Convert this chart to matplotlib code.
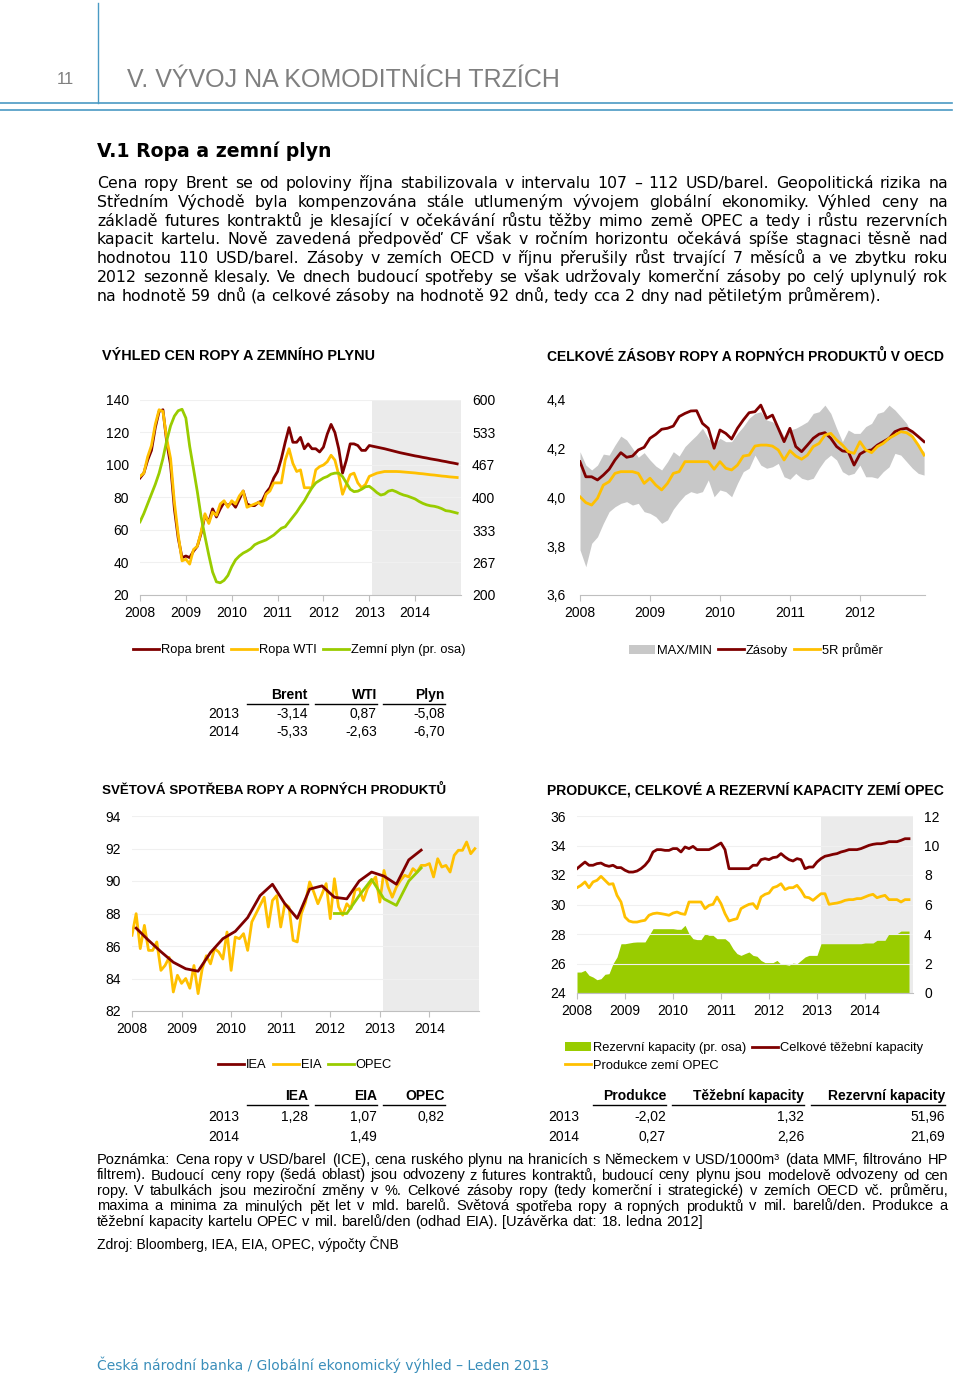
import numpy as np
import matplotlib
matplotlib.use("Agg")
import matplotlib.pyplot as plt
from matplotlib import font_manager
from matplotlib.lines import Line2D

W, H = 960, 1377

fonts = {f.name for f in font_manager.fontManager.ttflist}
if "Liberation Sans Narrow" in fonts:
    NARROW, NS, LS = "Liberation Sans Narrow", 11, 11
else:
    NARROW, NS, LS = "Liberation Sans", 10, 9.3
BODY = "DejaVu Sans"

RED = "#7F0000"
YEL = "#FFC000"
GRN = "#99CC00"
SHADE = "#EBEBEB"
BAND = "#C8C8C8"
BLUE = "#4A9AC4"
AXC = "#BFBFBF"
GRID = "#F0F0F0"

# ---------------- data ----------------
years7 = [2008, 2009, 2010, 2011, 2012, 2013, 2014]
years5 = [2008, 2009, 2010, 2011, 2012]

# oil prices, USD/barel, monthly 2008-2014
brent = [92, 95, 103, 109, 123, 133, 134, 114, 100, 73, 55, 43,
         44, 43, 47, 50, 58, 69, 65, 73, 68, 73, 77, 75,
         77, 74, 79, 84, 76, 75, 75, 77, 78, 83, 86, 92,
         96, 104, 114, 123, 114, 114, 117, 110, 113, 110, 110, 108,
         111, 119, 125, 120, 110, 95, 103, 113, 113, 112, 109, 109,
         112, 111.5, 111, 110.5, 110, 109.4, 108.8, 108.2, 107.6, 107.1, 106.6, 106.1,
         105.6, 105.2, 104.7, 104.3, 103.8, 103.4, 103, 102.5, 102.1, 101.6, 101.2, 100.7]
wti = [93, 95, 105, 112, 125, 134, 133, 116, 104, 77, 57, 41,
       42, 39, 48, 50, 59, 70, 64, 71, 69, 76, 78, 74,
       78, 76, 81, 84, 74, 75, 76, 77, 75, 82, 84, 89,
       89, 89, 103, 110, 101, 96, 97, 86, 86, 86, 97, 99,
       100, 102, 106, 103, 94, 82, 88, 94, 95, 89, 86, 88,
       93, 94, 95, 95.5, 96, 96, 96, 96, 95.9, 95.7, 95.5, 95.3,
       95.1, 94.8, 94.6, 94.3, 94, 93.8, 93.5, 93.2, 93, 92.7, 92.5, 92.3]
# russian gas, USD/1000m3 (right axis)
gas = [350, 367, 387, 407, 427, 450, 480, 517, 547, 567, 578, 581,
       563, 505, 459, 412, 360, 320, 282, 247, 227, 225, 230, 240,
       258, 272, 280, 286, 290, 295, 303, 307, 310, 313, 318, 323,
       330, 337, 340, 350, 360, 370, 382, 393, 407, 420, 430, 435,
       440, 443, 448, 450, 450, 443, 430, 417, 412, 413, 417, 422,
       423, 417, 410, 405, 407, 413, 415, 412, 408, 405, 403, 400,
       397, 392, 388, 385, 383, 382, 380, 377, 373, 372, 370, 368]
gas_ticks = [200, 266.67, 333.33, 400, 466.67, 533.33, 600]
gas_labels = ["200", "267", "333", "400", "467", "533", "600"]

# OECD stocks, bn barrels, monthly 2008-2012
stocks = [4.147, 4.085, 4.085, 4.072, 4.092, 4.116, 4.154, 4.184, 4.165, 4.17, 4.195, 4.206,
          4.243, 4.259, 4.28, 4.284, 4.293, 4.332, 4.345, 4.355, 4.356, 4.304, 4.284, 4.202,
          4.277, 4.263, 4.24, 4.284, 4.318, 4.348, 4.352, 4.379, 4.325, 4.338, 4.284, 4.229,
          4.284, 4.209, 4.188, 4.215, 4.243, 4.26, 4.266, 4.243, 4.209, 4.191, 4.188, 4.133,
          4.178, 4.192, 4.195, 4.215, 4.229, 4.243, 4.27, 4.28, 4.284, 4.27, 4.25, 4.229]
avg5 = [4.003, 3.979, 3.969, 3.997, 4.051, 4.065, 4.099, 4.106, 4.106, 4.106, 4.099, 4.058,
        4.079, 4.051, 4.031, 4.058, 4.099, 4.106, 4.147, 4.147, 4.147, 4.147, 4.147, 4.116,
        4.147, 4.12, 4.113, 4.133, 4.17, 4.174, 4.211, 4.215, 4.215, 4.211, 4.195, 4.154,
        4.192, 4.17, 4.157, 4.174, 4.209, 4.222, 4.256, 4.263, 4.236, 4.215, 4.188, 4.181,
        4.229, 4.195, 4.184, 4.209, 4.222, 4.243, 4.256, 4.27, 4.266, 4.25, 4.215, 4.174]
band_max = [4.188, 4.133, 4.113, 4.133, 4.178, 4.174, 4.215, 4.252, 4.236, 4.202, 4.165, 4.184,
            4.154, 4.129, 4.113, 4.147, 4.188, 4.17, 4.209, 4.233, 4.256, 4.284, 4.243, 4.215,
            4.243, 4.229, 4.229, 4.263, 4.291, 4.325, 4.345, 4.352, 4.318, 4.311, 4.291, 4.25,
            4.277, 4.284, 4.297, 4.311, 4.345, 4.352, 4.379, 4.345, 4.284, 4.229, 4.277, 4.263,
            4.263, 4.291, 4.304, 4.345, 4.352, 4.379, 4.359, 4.332, 4.304, 4.256, 4.209, 4.188]
band_min = [3.785, 3.716, 3.812, 3.839, 3.894, 3.942, 3.962, 3.976, 3.983, 3.969, 3.976, 3.942,
            3.935, 3.921, 3.894, 3.908, 3.952, 3.983, 4.01, 4.024, 4.017, 4.024, 4.072, 4.003,
            4.031, 4.024, 4.003, 4.058, 4.106, 4.12, 4.174, 4.133, 4.12, 4.126, 4.14, 4.085,
            4.075, 4.099, 4.079, 4.072, 4.079, 4.12, 4.154, 4.174, 4.154, 4.106, 4.092, 4.099,
            4.133, 4.085, 4.085, 4.079, 4.106, 4.126, 4.181, 4.174, 4.147, 4.12, 4.099, 4.092]

# world demand, mil. barrels/day
iea = [87.1, 86.35, 85.65, 85.0, 84.6, 84.45, 85.6, 86.45, 86.9, 87.75, 89.1, 89.8,
       88.6, 87.7, 89.5, 89.7, 89.0, 88.9, 90.0, 90.55, 90.3, 89.8, 91.3, 91.9]
eia = [86.66, 87.99, 85.84, 87.27, 85.73, 85.73, 86.25, 84.5, 84.8, 85.3, 83.17, 84.2,
       83.7, 84.0, 83.4, 84.8, 83.07, 84.6, 85.4, 84.9, 85.84, 85.63, 85.2, 86.86,
       84.5, 86.55, 86.45, 86.76, 85.73, 87.48, 87.99, 88.5, 89.0, 87.17, 88.8, 89.1,
       87.17, 88.6, 88.4, 86.35, 86.25, 87.99, 88.7, 89.94, 89.32, 88.6, 89.2, 89.84,
       87.68, 90.14, 88.4, 87.9, 88.6, 88.3, 89.43, 89.53, 88.8, 89.53, 89.94, 90.25,
       88.7, 90.65, 89.63, 89.0, 89.63, 90.04, 90.35, 90.25, 90.76, 90.55, 90.96, 90.96,
       91.07, 90.25, 91.37, 90.86, 90.96, 90.55, 91.58, 91.89, 91.89, 92.4, 91.68, 91.99]
opec_dem = [88.0, 88.0, 89.1, 90.1, 88.9, 88.5, 90.0, 90.8]

# OPEC production and capacities, mil. barrels/day
capacity = [32.43, 32.66, 32.88, 32.66, 32.66, 32.77, 32.81, 32.66, 32.59, 32.66, 32.5, 32.5,
            32.32, 32.2, 32.2, 32.27, 32.43, 32.66, 32.99, 33.56, 33.72, 33.72, 33.67, 33.67,
            33.79, 33.79, 33.56, 33.9, 33.79, 33.94, 33.72, 33.72, 33.72, 33.72, 33.85, 34.01,
            34.17, 33.72, 32.43, 32.43, 32.43, 32.43, 32.43, 32.43, 32.66, 32.66, 33.04, 33.11,
            33.04, 33.18, 33.22, 33.45, 33.22, 33.04, 32.95, 33.11, 33.04, 32.43, 32.54, 32.54,
            32.88, 33.11, 33.27, 33.33, 33.4, 33.45, 33.56, 33.63, 33.72, 33.72, 33.72, 33.79,
            33.9, 34.01, 34.08, 34.12, 34.12, 34.17, 34.26, 34.26, 34.26, 34.35, 34.46, 34.46]
production = [31.14, 31.3, 31.53, 31.14, 31.53, 31.64, 31.91, 31.64, 31.37, 31.41, 30.62, 30.17,
              29.15, 28.88, 28.81, 28.81, 28.88, 28.93, 29.27, 29.38, 29.42, 29.38, 29.33, 29.27,
              29.42, 29.49, 29.38, 29.33, 30.17, 30.17, 30.17, 30.17, 29.72, 29.94, 30.01, 30.51,
              30.06, 29.38, 28.88, 28.97, 29.04, 29.72, 29.88, 30.01, 30.06, 29.72, 30.51, 30.69,
              30.78, 31.14, 31.23, 31.41, 31.01, 31.14, 31.14, 31.3, 30.96, 30.51, 30.46, 30.28,
              30.51, 30.73, 30.73, 30.01, 30.06, 30.1, 30.17, 30.28, 30.33, 30.33, 30.4, 30.4,
              30.51, 30.62, 30.69, 30.46, 30.55, 30.62, 30.33, 30.33, 30.33, 30.17, 30.33, 30.33]
spare = [1.42, 1.42, 1.54, 1.2, 1.08, 0.9, 0.97, 1.27, 1.31, 1.99, 2.44, 3.34,
         3.34, 3.39, 3.44, 3.46, 3.46, 3.46, 3.91, 4.36, 4.36, 4.36, 4.36, 4.36,
         4.36, 4.32, 4.32, 4.59, 4.02, 3.68, 3.62, 3.62, 4.02, 3.91, 3.91, 3.68,
         3.68, 3.68, 3.46, 3.0, 2.67, 2.55, 2.67, 2.78, 2.55, 2.49, 2.21, 2.06,
         2.06, 2.06, 2.21, 1.94, 1.94, 1.88, 2.03, 1.99, 2.21, 2.44, 2.55, 2.55,
         2.55, 3.34, 3.34, 3.34, 3.34, 3.34, 3.34, 3.34, 3.34, 3.34, 3.34, 3.34,
         3.39, 3.39, 3.39, 3.57, 3.57, 3.57, 4.02, 4.02, 4.02, 4.2, 4.2, 4.2]

# tables (y/y changes in %)
tab1_cols = ["Brent", "WTI", "Plyn"]
tab1_rows = ["2013", "2014"]
tab1_vals = [["-3,14", "0,87", "-5,08"], ["-5,33", "-2,63", "-6,70"]]
tab3_cols = ["IEA", "EIA", "OPEC"]
tab3_rows = ["2013", "2014"]
tab3_vals = [["1,28", "1,07", "0,82"], ["", "1,49", ""]]
tab4_cols = ["Produkce", "Těžební kapacity", "Rezervní kapacity"]
tab4_rows = ["2013", "2014"]
tab4_vals = [["-2,02", "1,32", "51,96"], ["0,27", "2,26", "21,69"]]

body = [
    "Cena ropy Brent se od poloviny října stabilizovala v intervalu 107 – 112 USD/barel. Geopolitická rizika na",
    "Středním Východě byla kompenzována stále utlumeným vývojem globální ekonomiky. Výhled ceny na",
    "základě futures kontraktů je klesající v očekávání růstu těžby mimo země OPEC a tedy i růstu rezervních",
    "kapacit kartelu. Nově zavedená předpověď CF však v ročním horizontu očekává spíše stagnaci těsně nad",
    "hodnotou 110 USD/barel. Zásoby v zemích OECD v říjnu přerušily růst trvající 7 měsíců a ve zbytku roku",
    "2012 sezonně klesaly. Ve dnech budoucí spotřeby se však udržovaly komerční zásoby po celý uplynulý rok",
    "na hodnotě 59 dnů (a celkové zásoby na hodnotě 92 dnů, tedy cca 2 dny nad pětiletým průměrem).",
]
note = [
    "Poznámka: Cena ropy v USD/barel (ICE), cena ruského plynu na hranicích s Německem v USD/1000m³ (data MMF, filtrováno HP",
    "filtrem). Budoucí ceny ropy (šedá oblast) jsou odvozeny z futures kontraktů, budoucí ceny plynu jsou modelově odvozeny od cen",
    "ropy. V tabulkách jsou meziroční změny v %. Celkové zásoby ropy (tedy komerční i strategické) v zemích OECD vč. průměru,",
    "maxima a minima za minulých pět let v mld. barelů. Světová spotřeba ropy a ropných produktů v mil. barelů/den. Produkce a",
    "těžební kapacity kartelu OPEC v mil. barelů/den (odhad EIA). [Uzávěrka dat: 18. ledna 2012]",
]

t84 = 2008 + np.arange(len(brent)) / 12
t60 = 2008 + np.arange(len(stocks)) / 12
t_iea = 2008 + (1 + 3 * np.arange(len(iea))) / 12
t_opec = 2012 + (1 + 3 * np.arange(len(opec_dem))) / 12

fig = plt.figure(figsize=(W / 100, H / 100), dpi=100)
renderer = fig.canvas.get_renderer()


def fy(y):
    return 1 - y / H


def chart(l, t, r, b, xlim, ylim, yticks, years, grid=True):
    ax = fig.add_axes([l / W, 1 - b / H, (r - l) / W, (b - t) / H])
    ax.set_xlim(*xlim)
    ax.set_ylim(*ylim)
    ax.set_yticks(yticks)
    ax.set_xticks(years)
    ax.set_xticklabels([str(y) for y in years])
    for s in ["top", "right", "left"]:
        ax.spines[s].set_visible(False)
    ax.spines["bottom"].set_color(AXC)
    ax.tick_params(axis="y", length=0, pad=8, labelsize=NS)
    ax.tick_params(axis="x", length=4, color=AXC, pad=4, labelsize=NS)
    for lab in ax.get_xticklabels() + ax.get_yticklabels():
        lab.set_family(NARROW)
    if grid:
        ax.grid(axis="y", color=GRID, lw=0.8)
        ax.set_axisbelow(True)
    return ax


def right_axis(ax, ylim, ticks, labels):
    axr = ax.twinx()
    axr.set_ylim(*ylim)
    axr.set_yticks(ticks)
    axr.set_yticklabels(labels)
    for s in axr.spines.values():
        s.set_visible(False)
    axr.tick_params(axis="y", length=0, pad=8, labelsize=NS)
    for lab in axr.get_yticklabels():
        lab.set_family(NARROW)
    return axr


def legend(handles, x, y, ncol, **kw):
    fig.legend(handles=handles, loc="center left", bbox_to_anchor=(x / W, fy(y)),
               ncol=ncol, frameon=False, prop={"family": NARROW, "size": LS},
               handlelength=2.0, handletextpad=0.15, columnspacing=0.5,
               borderaxespad=0, borderpad=0, **kw)


def fit_size(lines, width, size, family, weight="normal"):
    # largest size at which every line still fits into the width
    probe = fig.text(0, 0, "", fontsize=size, family=family, fontweight=weight)
    ratio = 10.0
    for line in lines:
        probe.set_text(line)
        ratio = min(ratio, width / probe.get_window_extent(renderer).width)
    probe.remove()
    return size * ratio


def put_lines(lines, x0, x1, y0, dy, size, family, color="black"):
    # justified paragraph, last line left aligned; y0 = baseline of first line
    size = fit_size(lines[:-1], x1 - x0, size, family) * 0.985
    for i, line in enumerate(lines):
        y = fy(y0 + i * dy)
        words = line.split(" ")
        objs = [fig.text(0, y, w, fontsize=size, family=family, color=color, va="baseline")
                for w in words]
        ws = [o.get_window_extent(renderer).width for o in objs]
        if i == len(lines) - 1:
            gap = size * 100 / 72 * 0.3
        else:
            gap = (x1 - x0 - sum(ws)) / (len(words) - 1)
        x = x0
        for o, w in zip(objs, ws):
            o.set_x(x / W)
            x += w + gap


def title(x, y, text, width):
    size = fit_size([text], width, 11, NARROW, "bold")
    fig.text(x / W, fy(y), text, va="center", family=NARROW, size=size, fontweight="bold")


def table(cols, rows, vals, col_l, col_r, row_r, y_head, y_rows):
    for c, l, r in zip(cols, col_l, col_r):
        fig.text(r / W, fy(y_head), c, ha="right", va="center", fontweight="bold",
                 family=NARROW, size=NS)
        fig.add_artist(Line2D([l / W, r / W], [fy(y_head + 9)] * 2, color="black", lw=1))
    for row, y, vrow in zip(rows, y_rows, vals):
        fig.text(row_r / W, fy(y), row, ha="right", va="center", family=NARROW, size=NS)
        for v, r in zip(vrow, col_r):
            fig.text(r / W, fy(y), v, ha="right", va="center", family=NARROW, size=NS)


# ---------------- page header ----------------
fig.add_artist(Line2D([98 / W, 98 / W], [fy(3), fy(103)], color=BLUE, lw=1))
fig.add_artist(Line2D([0, 952 / W], [fy(103)] * 2, color=BLUE, lw=1.2))
fig.add_artist(Line2D([0, 952 / W], [fy(110)] * 2, color=BLUE, lw=1.2))
fig.text(65 / W, fy(80), "11", ha="center", va="center", family=NARROW, size=12, color="#7F7F7F")
fig.text(127 / W, fy(80), "V. VÝVOJ NA KOMODITNÍCH TRZÍCH", va="center", family=NARROW,
         size=18, color="#7F7F7F")

fig.text(97 / W, fy(151), "V.1 Ropa a zemní plyn", va="center", family=BODY, size=13.6,
         fontweight="bold")
put_lines(body, 97, 948, 188, 18.8, 10, BODY)

# ---------------- chart titles ----------------
title(102, 356, "VÝHLED CEN ROPY A ZEMNÍHO PLYNU", 270)
title(547, 356, "CELKOVÉ ZÁSOBY ROPY A ROPNÝCH PRODUKTŮ V OECD", 395)
title(102, 790, "SVĚTOVÁ SPOTŘEBA ROPY A ROPNÝCH PRODUKTŮ", 345)
title(547, 790, "PRODUKCE, CELKOVÉ A REZERVNÍ KAPACITY ZEMÍ OPEC", 398)

# ---------------- chart 1: oil and gas prices ----------------
ax1 = chart(140, 400, 461, 595, (2008, 2015), (20, 140), [20, 40, 60, 80, 100, 120, 140], years7)
ax1.axvspan(2013.07, 2015, color=SHADE, lw=0, zorder=0)
l_brent, = ax1.plot(t84, brent, color=RED, lw=2, label="Ropa brent")
l_wti, = ax1.plot(t84, wti, color=YEL, lw=2, label="Ropa WTI")
ax1r = right_axis(ax1, (200, 600), gas_ticks, gas_labels)
l_gas, = ax1r.plot(t84, gas, color=GRN, lw=2, label="Zemní plyn (pr. osa)")
legend([l_brent, l_wti, l_gas], 133, 650, 3)
table(tab1_cols, tab1_rows, tab1_vals, [247, 315, 383], [308, 377, 445], 239, 695, [714, 732])

# ---------------- chart 2: OECD stocks ----------------
ax2 = chart(580, 400, 925, 595, (2008, 2012.93), (3.6, 4.4), [3.6, 3.8, 4.0, 4.2, 4.4], years5,
            grid=False)
ax2.set_yticklabels(["3,6", "3,8", "4,0", "4,2", "4,4"])
ax2.tick_params(axis="y", pad=10)
band = ax2.fill_between(t60, band_min, band_max, color=BAND, lw=0, label="MAX/MIN")
l_st, = ax2.plot(t60, stocks, color=RED, lw=2, label="Zásoby")
l_avg, = ax2.plot(t60, avg5, color=YEL, lw=2, label="5R průměr")
legend([band, l_st, l_avg], 629, 650, 3)

# ---------------- chart 3: world demand ----------------
ax3 = chart(132, 816, 479, 1011, (2008, 2015), (82, 94), [82, 84, 86, 88, 90, 92, 94], years7)
ax3.axvspan(2013.07, 2015, color=SHADE, lw=0, zorder=0)
l_eia, = ax3.plot(t84, eia, color=YEL, lw=2, label="EIA")
l_iea, = ax3.plot(t_iea, iea, color=RED, lw=2, label="IEA")
l_opec, = ax3.plot(t_opec, opec_dem, color=GRN, lw=2, label="OPEC")
legend([l_iea, l_eia, l_opec], 218, 1065, 3)
table(tab3_cols, tab3_rows, tab3_vals, [247, 315, 383], [308, 377, 445], 239, 1096, [1117, 1137])

# ---------------- chart 4: OPEC ----------------
ax4 = chart(577, 816, 913, 993, (2008, 2015), (24, 36), [24, 26, 28, 30, 32, 34, 36], years7,
            grid=False)
ax4r = right_axis(ax4, (0, 12), [0, 2, 4, 6, 8, 10, 12], ["0", "2", "4", "6", "8", "10", "12"])
ax4r.grid(axis="y", color=GRID, lw=0.8)
ax4r.axvspan(2013.08, 2015, color=SHADE, lw=0, zorder=0)
area = ax4r.fill_between(t84, 0, spare, color=GRN, lw=0, label="Rezervní kapacity (pr. osa)")
ax4.set_zorder(ax4r.get_zorder() + 1)
ax4.patch.set_visible(False)
l_cap, = ax4.plot(t84, capacity, color=RED, lw=2, label="Celkové těžební kapacity")
l_prod, = ax4.plot(t84, production, color=YEL, lw=2, label="Produkce zemí OPEC")
legend([area, l_prod, l_cap], 565, 1057, 2, labelspacing=0.45)
table(tab4_cols, tab4_rows, tab4_vals, [593, 672, 811], [666, 804, 945], 579, 1096, [1117, 1137])

# ---------------- notes and footer ----------------
put_lines(note, 97, 948, 1164, 15.5, NS, NARROW)
fig.text(97 / W, fy(1244), "Zdroj: Bloomberg, IEA, EIA, OPEC, výpočty ČNB", va="center",
         family=NARROW, size=NS)
fig.text(97 / W, fy(1365), "Česká národní banka / Globální ekonomický výhled – Leden 2013",
         va="center", family=BODY, size=10, color="#3A8EBA")

fig.savefig("out.png", dpi=100)
